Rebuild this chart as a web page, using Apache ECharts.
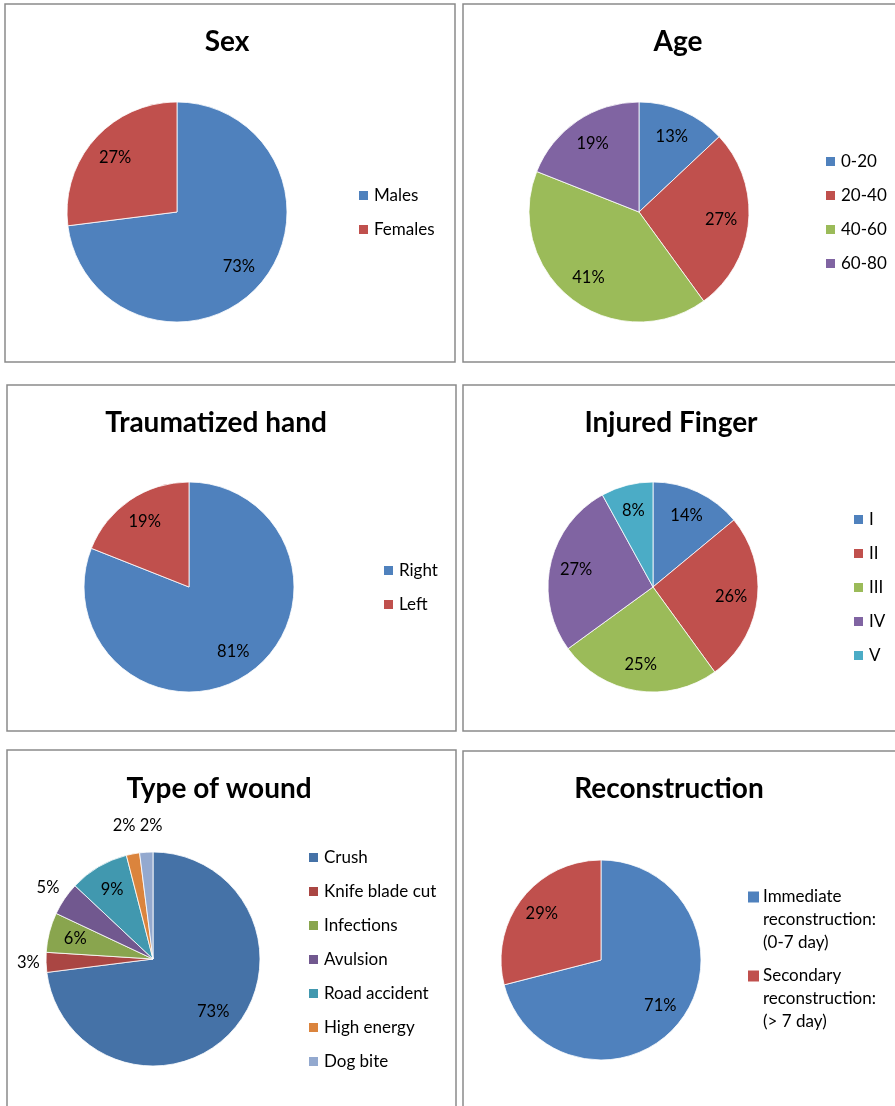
<!DOCTYPE html>
<html style="height: 100%">
<head>
<meta charset="utf-8">
<script src="https://cdn.jsdelivr.net/npm/echarts@6/dist/echarts.min.js"></script>
</head>
<body style="height: 100%; margin: 0; background: #fff">
<div id="container" style="width: 895px; height: 1106px"></div>
<script type="text/javascript">
// data
var sexNames = ['Males', 'Females'];
var sexValues = [73, 27];
var ageNames = ['0-20', '20-40', '40-60', '60-80'];
var ageValues = [13, 27, 41, 19];
var handNames = ['Right', 'Left'];
var handValues = [81, 19];
var fingerNames = ['I', 'II', 'III', 'IV', 'V'];
var fingerValues = [14, 26, 25, 27, 8];
var woundNames = ['Crush', 'Knife blade cut', 'Infections', 'Avulsion', 'Road accident', 'High energy', 'Dog bite'];
var woundValues = [73, 3, 6, 5, 9, 2, 2];
var reconNames = ['Immediate\nreconstruction:\n(0-7 day)', 'Secondary\nreconstruction:\n(> 7 day)'];
var reconValues = [71, 29];

var office = ['#4F81BD', '#C0504D', '#9BBB59', '#8064A2', '#4BACC6'];
var woundColors = ['#4572A7', '#AA4643', '#89A54E', '#71588F', '#4198AF', '#DB843D', '#93A9CF'];
var FONT = 'Lato, "Open Sans", sans-serif';

var dom = document.getElementById('container');
var myChart = echarts.init(dom, null, {renderer: 'canvas'});

function toData(names, values, colors) {
    return names.map(function (n, i) {
        return {name: n, value: values[i], itemStyle: {color: colors[i]}};
    });
}

// excel-ish label placement: inside at 3/4 radius, small slices just outside the rim
function labelPlacer(values, cx, cy, r, outside) {
    var total = values.reduce(function (a, b) { return a + b; }, 0);
    var placed = [];
    var acc = 0;
    values.forEach(function (v, i) {
        var th = (acc + v / 2) / total * Math.PI * 2;
        acc += v;
        var dx = Math.sin(th), dy = -Math.cos(th);
        var p;
        if (outside && outside.indexOf(i) >= 0) {
            var w = 23, h = 16;
            var d = r + 6 + Math.abs(dx) * w / 2 + Math.abs(dy) * h / 2;
            p = {x: cx + d * dx, y: cy + d * dy, w: w, out: true};
        } else {
            p = {x: cx + 0.75 * r * dx, y: cy + 0.75 * r * dy, w: 30, out: false};
        }
        placed.push(p);
    });
    // push apart outside labels that collide
    for (var i = 1; i < placed.length; i++) {
        var a = placed[i - 1], b = placed[i];
        if (a.out && b.out && Math.abs(a.y - b.y) < 16 && Math.abs(a.x - b.x) < (a.w + b.w) / 2 + 4) {
            var mid = (a.x + b.x) / 2, half = (a.w + b.w) / 4 + 2;
            var top = Math.min(a.y, b.y) - 12;
            if (a.x < b.x) { a.x = mid - half; b.x = mid + half; } else { a.x = mid + half; b.x = mid - half; }
            a.y = top; b.y = top;
        }
    }
    return function (params) {
        var p = placed[params.dataIndex];
        return {x: p.x, y: p.y, align: 'center', verticalAlign: 'middle'};
    };
}

function pie(names, values, colors, cx, cy, r, outside) {
    return {
        type: 'pie',
        center: [cx, cy],
        radius: r,
        startAngle: 90,
        clockwise: true,
        animation: false,
        silent: true,
        itemStyle: {borderColor: '#fff', borderWidth: 0.8},
        label: {
            show: true,
            position: 'inside',
            formatter: '{c}%',
            color: '#000',
            fontFamily: FONT,
            fontSize: 16.5
        },
        labelLine: {show: false},
        labelLayout: labelPlacer(values, cx, cy, r, outside),
        emphasis: {disabled: true},
        data: toData(names, values, colors)
    };
}

function legend(names, left, top) {
    return {
        data: names,
        orient: 'vertical',
        left: left,
        top: top,
        padding: 0,
        icon: 'rect',
        itemWidth: 11,
        itemHeight: 11,
        itemGap: 17,
        selectedMode: false,
        textStyle: {fontFamily: FONT, fontSize: 17, color: '#000', lineHeight: 17}
    };
}

function title(text, x, y) {
    return {
        text: text,
        left: x,
        top: y,
        textAlign: 'center',
        textVerticalAlign: 'middle',
        padding: 0,
        textStyle: {fontFamily: FONT, fontWeight: 'bold', fontSize: 28, color: '#000'}
    };
}

function frame(x, y, w, h) {
    return {
        type: 'rect',
        shape: {x: x, y: y, width: w, height: h},
        style: {fill: null, stroke: '#8a8a8a', lineWidth: 1.5},
        silent: true
    };
}

var reconLegend = legend(reconNames, 743, 885.5);
reconLegend.icon = 'none';
reconLegend.itemWidth = 0;
reconLegend.itemGap = 10;
reconLegend.textStyle = {
    fontFamily: FONT, fontSize: 17, color: '#000', lineHeight: 23,
    rich: {
        sq0: {width: 11, height: 11, backgroundColor: office[0]},
        sq1: {width: 11, height: 11, backgroundColor: office[1]},
        g: {width: 4},
        g2: {width: 15}
    }
};
reconLegend.formatter = function (name) {
    var idx = reconNames.indexOf(name);
    var lines = name.split('\n');
    return lines.map(function (l, k) {
        return (k === 0 ? '{sq' + idx + '|}{g|}' : '{g2|}') + l;
    }).join('\n');
};

option = {
    backgroundColor: '#fff',
    animation: false,
    title: [
        title('Sex', 227, 42),
        title('Age', 678, 42),
        title('Traumatized hand', 216, 423),
        title('Injured Finger', 671, 423),
        title('Type of wound', 219, 789),
        title('Reconstruction', 669, 789)
    ],
    legend: [
        legend(sexNames, 357, 187),
        legend(ageNames, 824, 153),
        legend(handNames, 382, 562),
        legend(fingerNames, 852, 511),
        legend(woundNames, 307, 849),
        reconLegend
    ],
    graphic: [
        frame(5, 4, 450, 358),
        frame(463, 4, 440, 358),
        frame(7, 385, 449, 346),
        frame(463, 385, 440, 346),
        frame(7, 750, 449, 370),
        frame(463, 751, 440, 370)
    ],
    series: [
        pie(sexNames, sexValues, office, 177, 212, 110),
        pie(ageNames, ageValues, office, 639, 212, 110),
        pie(handNames, handValues, office, 189, 587, 105),
        pie(fingerNames, fingerValues, office, 653, 587, 105),
        pie(woundNames, woundValues, woundColors, 153, 959, 107, [1, 3, 5, 6]),
        pie(reconNames, reconValues, office, 601, 960, 100)
    ]
};

if (option && typeof option === "object") {
    myChart.setOption(option, true);
}
</script>
</body>
</html>
